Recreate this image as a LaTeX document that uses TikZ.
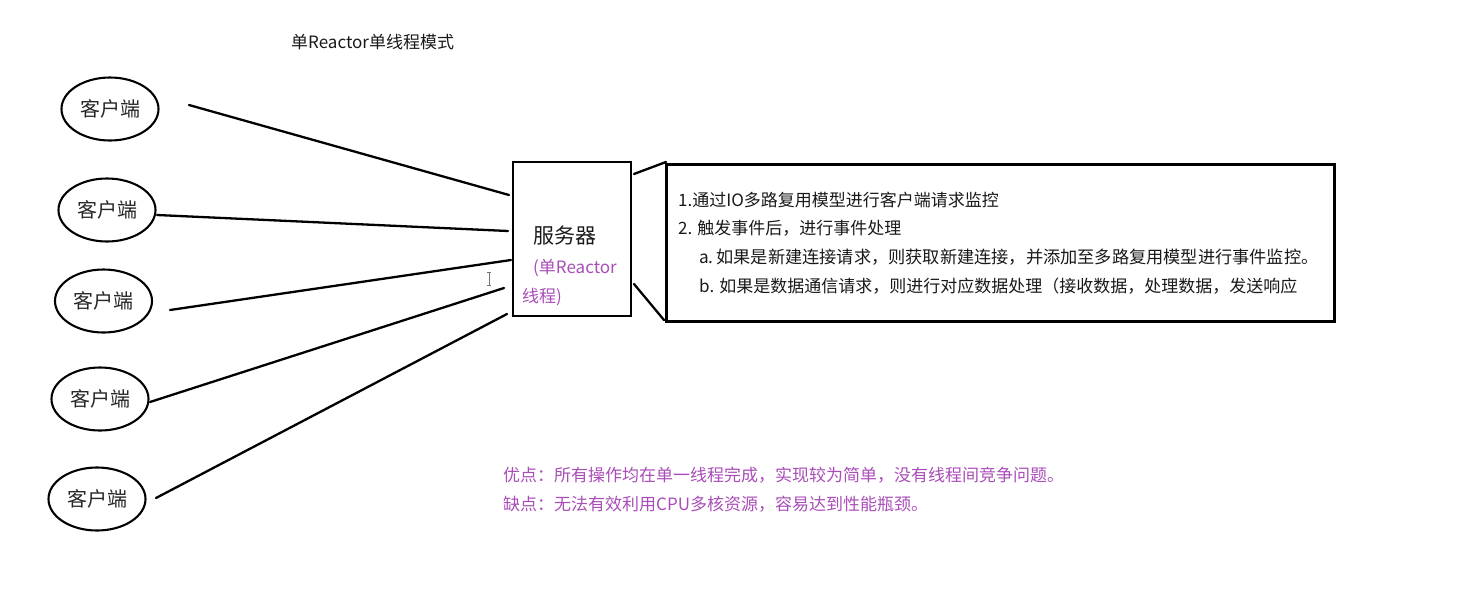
\documentclass[tikz,border=0pt]{standalone}
\usepackage{fontspec}
\setmainfont{Noto Sans CJK SC}
\definecolor{notepurple}{HTML}{A94DB8}
\usetikzlibrary{shapes.geometric}
\tikzstyle{client}=[draw,ellipse,line width=2.1pt,minimum width=97pt,minimum height=63pt,inner sep=0pt,font=\fontsize{20}{20}\selectfont,text=black!85]
\tikzstyle{link}=[line width=2.3pt,line cap=round]
\tikzstyle{txt}=[anchor=base west,inner sep=0pt,font=\fontsize{17}{17}\selectfont,text=black!90]
\begin{document}
\begin{tikzpicture}[x=1pt,y=-1pt]
	\useasboundingbox (0,0) rectangle (1472,611);
	\node[txt] (title) at (291,48) {单Reactor单线程模式};
	% clients, with the end of their line on each side
	\foreach \i/\x/\y/\sx/\sy/\ex/\ey in {1/110/109/189/105/509/195,2/107/210/157/215/508/231,3/103.5/301/170/310/511/260,4/100/399/150/402/504/288,5/97/499/156/498/507/314} {
		\node[client] (client\i) at (\x,\y) {客户端};
		\coordinate (from\i) at (\sx,\sy);
		\coordinate (to\i) at (\ex,\ey);
		\draw[link] (from\i) -- (to\i);
	}
	% server
	\node[draw,line width=2.2pt,minimum width=118pt,minimum height=154pt,inner sep=0pt] (server) at (572,239) {};
	\node[txt,font=\fontsize{21}{21}\selectfont] (servername) at (533,243) {服务器};
	\node[txt,text=notepurple] (role1) at (533,273) {(单Reactor};
	\node[txt,text=notepurple] (role2) at (522,302) {线程)};
	% mouse cursor
	\draw[black!55,line width=0.8pt] (487,272.5) -- (491,272.5) (489,272.5) -- (489,285.5) (487,285.5) -- (491,285.5);
	% notes
	\node[draw,line width=3pt,minimum width=668pt,minimum height=157pt,inner sep=0pt] (notes) at (1000.5,242.5) {};
	\coordinate (top1) at (634,174);
	\coordinate (top2) at (666,162);
	\coordinate (bot1) at (634,284);
	\coordinate (bot2) at (664,320);
	\draw[link] (top1) -- (top2);
	\draw[link] (bot1) -- (bot2);
	\node[txt] (line1) at (678,206) {1.通过IO多路复用模型进行客户端请求监控};
	\node[txt] (line2) at (678,234) {2. 触发事件后，进行事件处理};
	\node[txt,font=\fontsize{17.2}{17}\selectfont] (line3) at (699,263) {a.\,如果是新建连接请求，则获取新建连接，并添加至多路复用模型进行事件监控。};
	\node[txt] (line4) at (699,292) {b. 如果是数据通信请求，则进行对应数据处理（接收数据，处理数据，发送响应};
	\node[txt,text=notepurple] (pros) at (503,481) {优点：所有操作均在单一线程完成，实现较为简单，没有线程间竞争问题。};
	\node[txt,text=notepurple] (cons) at (503,510) {缺点：无法有效利用CPU多核资源，容易达到性能瓶颈。};
\end{tikzpicture}
\end{document}
